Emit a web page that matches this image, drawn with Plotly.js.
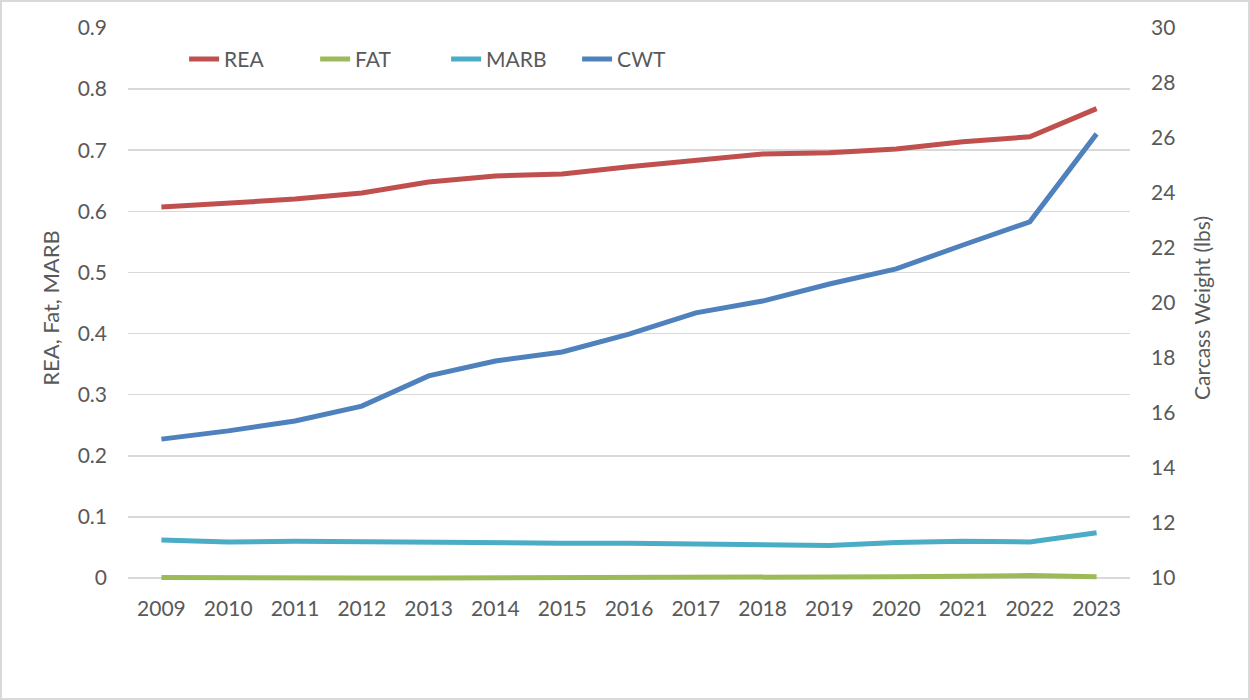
<!DOCTYPE html>
<html>
<head>
<meta charset="utf-8">
<script src="https://cdn.plot.ly/plotly-3.0.1.min.js"></script>
<style>
html,body{margin:0;padding:0;background:#fff;}
#chart{width:1250px;height:700px;box-sizing:border-box;border:2px solid #d9d9d9;}
</style>
</head>
<body>
<div id="chart"></div>
<script>
const years = ["2009","2010","2011","2012","2013","2014","2015","2016","2017","2018","2019","2020","2021","2022","2023"];
const rea  = [0.607,0.614,0.620,0.630,0.648,0.658,0.661,0.673,0.684,0.694,0.696,0.702,0.714,0.722,0.768];
const fat  = [0.001,0.000,0.000,0.000,0.000,0.000,0.000,0.000,0.000,0.001,0.001,0.002,0.003,0.004,0.002];
const marb = [0.062,0.059,0.060,0.059,0.058,0.056,0.057,0.057,0.055,0.055,0.053,0.058,0.060,0.059,0.074];
const cwt  = [15.05,15.35,15.71,16.25,17.35,17.89,18.22,18.87,19.64,20.07,20.69,21.24,22.11,22.95,26.15];

const font = "Lato, 'Open Sans', sans-serif";
const grey = "#595959";
function tr(name, y, color, axis){
  return {x: years, y: y, name: name, type: "scatter", mode: "lines", yaxis: axis,
          line: {color: color, width: 5, shape: "linear"}, hoverinfo: "x+y"};
}
const data = [
  tr("REA", rea, "#C0504D", "y"),
  tr("FAT", fat, "#9BBB59", "y"),
  tr("MARB", marb, "#4BACC6", "y"),
  tr("CWT", cwt, "#4F81BD", "y2")
];
// plot extends 10px below the zero gridline so the FAT line is not clipped
const pad = 10 / 550;
const layout = {
  width: 1246, height: 696,
  margin: {l: 126, r: 118, t: 26, b: 110},
  paper_bgcolor: "#fff", plot_bgcolor: "#fff",
  font: {family: font, size: 21, color: grey},
  showlegend: true,
  legend: {orientation: "h", x: 0.056, y: 0.944, xanchor: "left", yanchor: "middle",
           font: {family: font, size: 21, color: grey}, bgcolor: "rgba(0,0,0,0)", traceorder: "normal",
           entrywidth: 86, entrywidthmode: "pixels"},
  xaxis: {type: "category", range: [-0.5, 14.5], showgrid: false, zeroline: false, showline: false,
          ticks: "", ticklabelstandoff: 6, tickfont: {family: font, size: 21, color: grey}, fixedrange: true},
  yaxis: {range: [-0.9 * pad, 0.9], dtick: 0.1, tick0: 0, showgrid: true, gridcolor: "#d9d9d9", gridwidth: 1.5,
          zeroline: false, showline: false, ticks: "", ticklabelstandoff: 20,
          tickformat: "~g",
          tickfont: {family: font, size: 21, color: grey},
          title: {text: "REA, Fat, MARB", font: {family: font, size: 22, color: grey}, standoff: 11}},
  yaxis2: {range: [10 - 20 * pad, 30], dtick: 2, tick0: 10, overlaying: "y", side: "right", showgrid: false,
           zeroline: false, showline: false, ticks: "", ticklabelstandoff: 20,
           tickfont: {family: font, size: 21, color: grey},
           title: {text: "Carcass Weight (lbs)", font: {family: font, size: 21, color: grey}, standoff: 20}}
};
Plotly.newPlot("chart", data, layout, {displayModeBar: false, staticPlot: true});
</script>
</body>
</html>
